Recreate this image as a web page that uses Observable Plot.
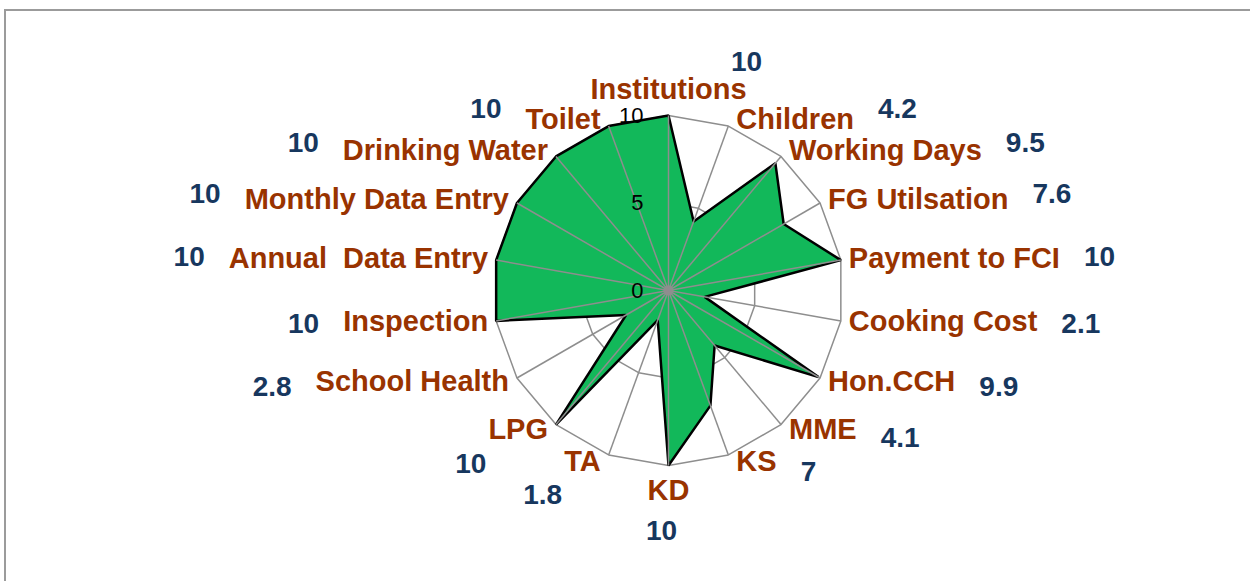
<!DOCTYPE html>
<html>
<head>
<meta charset="utf-8">
<script src="https://cdn.jsdelivr.net/npm/d3@7"></script>
<script src="https://cdn.jsdelivr.net/npm/@observablehq/plot@0.6"></script>
<style>
  html, body { margin: 0; padding: 0; background: #fff; overflow: hidden; }
  #frame { position: absolute; left: 4px; top: 9px; width: 1400px; height: 800px;
           border: 2px solid #9b9b9b; box-sizing: border-box; }
  #chart { position: absolute; left: 0; top: 0; }
  #chart svg text { white-space: pre; }
</style>
</head>
<body>
<div id="frame"></div>
<div id="chart"></div>
<script>
// ---- data ----
const categories = ["Institutions", "Children", "Working Days", "FG Utilsation", "Payment to FCI",
  "Cooking Cost", "Hon.CCH", "MME", "KS", "KD", "TA", "LPG", "School Health", "Inspection",
  "Annual  Data Entry", "Monthly Data Entry", "Drinking Water", "Toilet"];
const values = [10, 4.2, 9.5, 7.6, 10, 2.1, 9.9, 4.1, 7, 10, 1.8, 10, 2.8, 10, 10, 10, 10, 10];
const valueLabels = ["10", "4.2", "9.5", "7.6", "10", "2.1", "9.9", "4.1", "7", "10", "1.8", "10", "2.8", "10", "10", "10", "10", "10"];
const ringTicks = [0, 5, 10];

// ---- layout ----
const W = 1250, H = 581, CX = 668, CY = 290, RPX = 175, MAXV = 10;
const k = RPX / MAXV; // px per value unit
const CAT_FONT = 29, VAL_FONT = 28, FONT = "Liberation Sans, Arial, sans-serif";
const ctx = document.createElement("canvas").getContext("2d");
ctx.font = `bold ${CAT_FONT}px "Liberation Sans"`;

const n = categories.length;
const rows = categories.map((c, i) => {
  const a = i * 2 * Math.PI / n, s = Math.sin(a), co = Math.cos(a);
  const side = Math.abs(s) < 1e-6 ? (co > 0 ? "top" : "bottom") : (s > 0 ? "right" : "left");
  const w = ctx.measureText(c).width;
  // outer vertex in px offsets from center (y down)
  const vx = MAXV * k * s, vy = -MAXV * k * co;
  let lx, ly, tx, ty;
  if (side === "right" || side === "left") {
    const sg = side === "right" ? 1 : -1;
    lx = vx + sg * 8; ly = vy - 7 * co;
    if (side === "left" && co < -0.7) {
      // lower-left labels: value sits below-left of the category
      tx = lx - w - 2; ty = ly + 34;
    } else {
      tx = lx + sg * (w + 24); ty = ly - 11 * co;
    }
  } else if (side === "top") {
    lx = vx; ly = vy - 26;
    tx = lx + w / 2; ty = ly - 27;
  } else {
    lx = vx; ly = vy + 25;
    tx = lx - 7; ty = ly + 41;
  }
  return {
    category: c, value: values[i], label: valueLabels[i], side,
    s, co,
    px: values[i] * s, py: values[i] * co,
    ox: MAXV * s, oy: MAXV * co,
    lx: lx / k, ly: -ly / k, tx: tx / k, ty: -ty / k
  };
});
const ringRows = ringTicks.filter(t => t > 0).flatMap(t => rows.map(r => ({t, x: t * r.s, y: t * r.co})));
const tickRows = ringTicks.map(t => ({t, label: String(t)}));

const anchorOf = side => side === "right" ? "start" : side === "left" ? "end" : "middle";
const catMarks = ["right", "left", "top", "bottom"].map(side =>
  Plot.text(rows.filter(r => r.side === side), {
    x: "lx", y: "ly", text: "category", textAnchor: anchorOf(side),
    fill: "#993300", fontSize: CAT_FONT, fontWeight: "bold", fontFamily: FONT
  }));
const valMarks = ["right", "left", "top", "bottom"].map(side =>
  Plot.text(rows.filter(r => r.side === side), {
    x: "tx", y: "ty", text: "label", textAnchor: anchorOf(side),
    fill: "#17375e", fontSize: VAL_FONT, fontWeight: "bold", fontFamily: FONT
  }));

const chart = Plot.plot({
  width: W, height: H, margin: 0,
  x: {domain: [-CX / k, (W - CX) / k], range: [0, W], axis: null},
  y: {domain: [-(H - CY) / k, CY / k], range: [H, 0], axis: null},
  style: {background: "transparent", overflow: "visible"},
  marks: [
    Plot.line(ringRows, {x: "x", y: "y", z: "t", curve: "linear-closed", stroke: "#8e8e8e", strokeWidth: 1.5}),
    Plot.line(rows, {x: "px", y: "py", curve: "linear-closed", fill: "#12b85a", stroke: "#000",
      strokeWidth: 2.5, strokeLinejoin: "miter"}),
    Plot.link(rows, {x1: 0, y1: 0, x2: "ox", y2: "oy", stroke: "#8e8e8e", strokeWidth: 1.5}),
    Plot.dot([0], {x: 0, y: 0, r: 5, fill: "#8e8e8e"}),
    Plot.text(tickRows, {x: 0, y: "t", text: "label", dx: -25, textAnchor: "end",
      fill: "#000", fontSize: 22, fontFamily: FONT}),
    ...catMarks,
    ...valMarks
  ]
});
document.getElementById("chart").appendChild(chart);
</script>
</body>
</html>
